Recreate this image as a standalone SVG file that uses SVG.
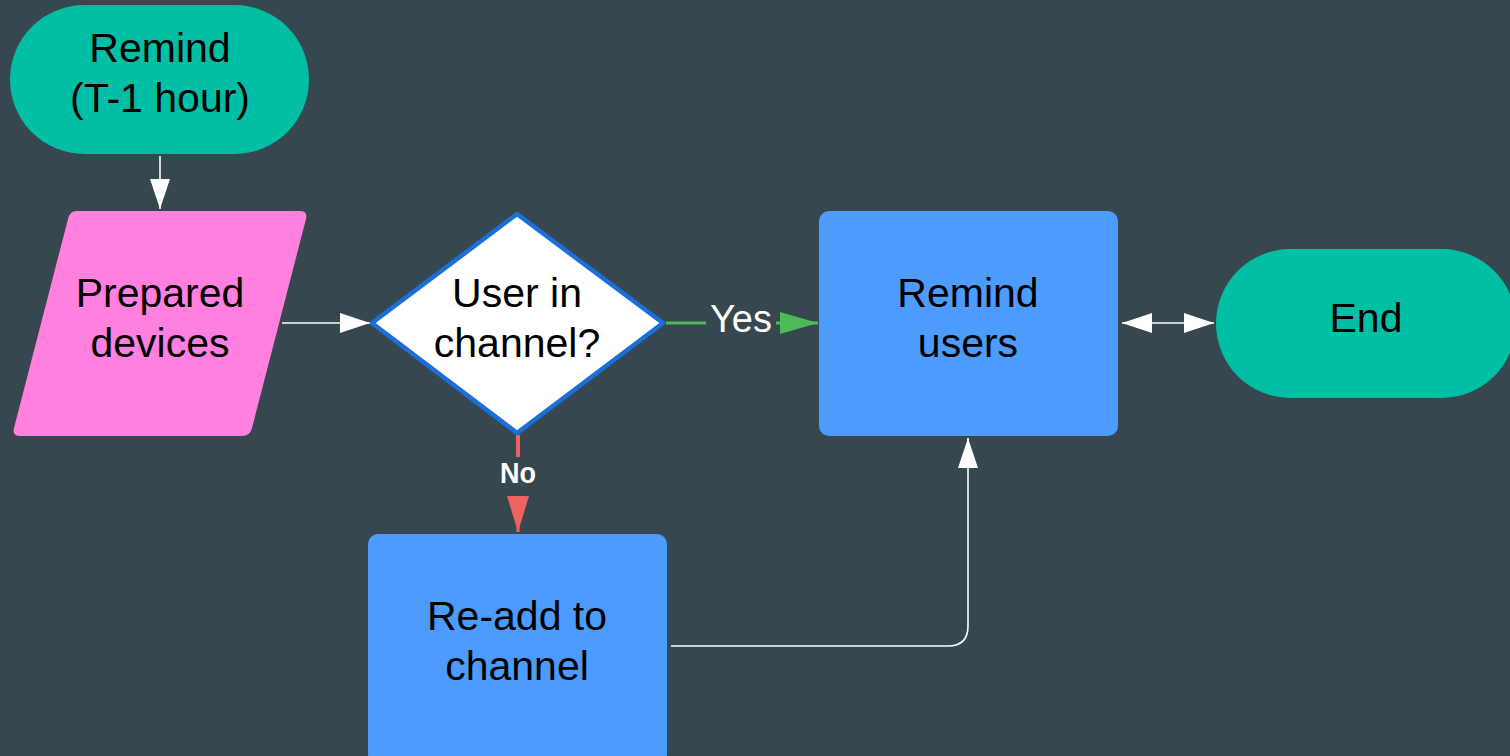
<svg xmlns="http://www.w3.org/2000/svg" width="1510" height="756" viewBox="0 0 1510 756">
  <style>
    .lbl { font-family: "Liberation Sans", Arial, sans-serif; font-size: 41px; fill: #000; text-anchor: middle; }
    .term { fill: #00bfa5; }
    .proc { fill: #4d9bfd; }
    .wire { fill: none; stroke: #ffffff; stroke-width: 1.6; }
  </style>
  <defs>
    <marker id="aw" markerUnits="userSpaceOnUse" markerWidth="30" markerHeight="20" refX="30" refY="10" orient="auto-start-reverse">
      <path d="M0,0 L30,10 L0,20 z" fill="#ffffff"/>
    </marker>
    <marker id="ag" markerUnits="userSpaceOnUse" markerWidth="38" markerHeight="22" refX="38" refY="11" orient="auto">
      <path d="M0,0 L38,11 L0,22 z" fill="#4cbb55"/>
    </marker>
    <marker id="ar" markerUnits="userSpaceOnUse" markerWidth="36" markerHeight="22" refX="36" refY="11" orient="auto">
      <path d="M0,0 L36,11 L0,22 z" fill="#f0625f"/>
    </marker>
  </defs>
  <rect width="1510" height="756" fill="#37474f"/>

  <g id="connectors">
    <path class="wire" d="M160,156 V209" marker-end="url(#aw)"/>
    <path class="wire" d="M282,323 H370" marker-end="url(#aw)"/>
    <path d="M666,323 H706" stroke="#4cbb55" stroke-width="3" fill="none"/>
    <path d="M776,323 H818" stroke="#4cbb55" stroke-width="3" fill="none" marker-end="url(#ag)"/>
    <text x="741" y="332" font-family="Liberation Sans, Arial, sans-serif" font-size="38" fill="#ffffff" text-anchor="middle">Yes</text>
    <path d="M518,435 V457" stroke="#f0625f" stroke-width="4" fill="none"/>
    <path d="M518,497 V532" stroke="#f0625f" stroke-width="3" fill="none" marker-end="url(#ar)"/>
    <text x="518" y="483" font-family="Liberation Sans, Arial, sans-serif" font-size="30" font-weight="bold" fill="#ffffff" text-anchor="middle" textLength="36" lengthAdjust="spacingAndGlyphs">No</text>
    <path class="wire" d="M1122,323 H1214" marker-start="url(#aw)" marker-end="url(#aw)"/>
    <path class="wire" d="M671,646 H948 Q968,646 968,626 V438" marker-end="url(#aw)"/>
  </g>

  <g id="start">
    <rect class="term" x="10" y="5" width="299" height="149" rx="74.5"/>
    <text class="lbl" x="160" y="62">Remind</text>
    <text class="lbl" x="160" y="112">(T-1 hour)</text>
  </g>

  <g id="prepared">
    <path d="M76,211 H300 Q308,211 306,219 L252,428 Q250,436 242,436 H20 Q12,436 14,428 L68,219 Q70,211 76,211 z" fill="#ff80df"/>
    <text class="lbl" x="160" y="307">Prepared</text>
    <text class="lbl" x="160" y="357">devices</text>
  </g>

  <g id="decision">
    <path d="M372,323 L517,214 L663,323 L517,433 z" fill="#ffffff" stroke="#1a6fdd" stroke-width="4.5" stroke-linejoin="round"/>
    <text class="lbl" x="517" y="307">User in</text>
    <text class="lbl" x="517" y="357">channel?</text>
  </g>

  <g id="remind-users">
    <rect class="proc" x="819" y="211" width="299" height="225" rx="10"/>
    <text class="lbl" x="968" y="307">Remind</text>
    <text class="lbl" x="968" y="357">users</text>
  </g>

  <g id="end">
    <rect class="term" x="1216" y="249" width="300" height="149" rx="74.5"/>
    <text class="lbl" x="1366" y="332">End</text>
  </g>

  <g id="readd">
    <rect class="proc" x="368" y="534" width="299" height="230" rx="10"/>
    <text class="lbl" x="517" y="630">Re-add to</text>
    <text class="lbl" x="517" y="680">channel</text>
  </g>
</svg>
